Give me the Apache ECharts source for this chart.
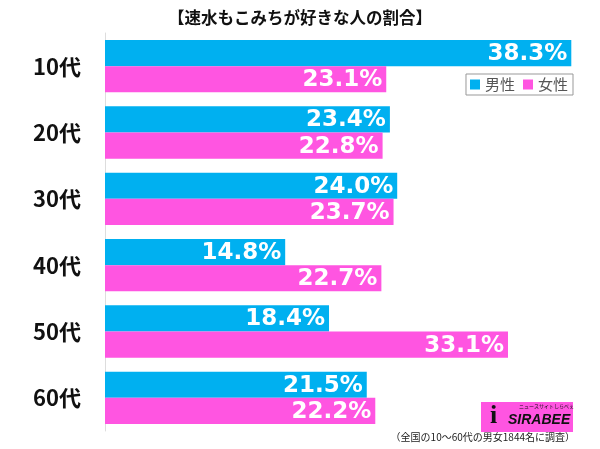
<!DOCTYPE html>
<html><head><meta charset="utf-8">
<script src="https://cdn.jsdelivr.net/npm/echarts@6/dist/echarts.min.js"></script>
<style>html,body{margin:0;padding:0;background:#fff}#c{width:600px;height:449px}</style>
</head><body><div id="c"></div>
<script>
const categories = ['10代','20代','30代','40代','50代','60代'];
const male = [38.3, 23.4, 24.0, 14.8, 18.4, 21.5];
const female = [23.1, 22.8, 23.7, 22.7, 33.1, 22.2];
const seriesNames = ['男性','女性'];
const titleText = '【速水もこみちが好きな人の割合】';
const noteText = '（全国の10～60代の男女1844名に調査）';

const chart = echarts.init(document.getElementById('c'));
const font = '"Noto Sans CJK JP", sans-serif';
const lbl = {show:true, position:'insideRight', color:'#fff', fontWeight:'bold', fontSize:23, fontFamily:'"DejaVu Sans", sans-serif', offset:[1,1], formatter: p => p.value.toFixed(1) + '%'};
chart.setOption({
  animation:false,
  title:{text:titleText, left:'center', top:4, textStyle:{fontFamily:font, fontSize:16.5, fontWeight:'bold', color:'#111'}},
  legend:{data:seriesNames, right:27, top:74, itemWidth:10, itemHeight:10, itemGap:8, borderColor:'#999', borderWidth:1, padding:[3,5,3,4], textStyle:{fontFamily:font, fontSize:15, color:'#555'}, icon:'rect'},
  grid:{left:105, right:8, top:33, bottom:18, containLabel:false},
  xAxis:{type:'value', min:0, max:40, show:false},
  yAxis:{type:'category', data:categories, inverse:true, axisTick:{show:false}, axisLine:{lineStyle:{color:'#ddd'}}, axisLabel:{fontFamily:font, fontSize:22, fontWeight:'bold', color:'#111', margin:24}},
  series:[
    {name:seriesNames[0], type:'bar', data:male, barGap:'0%', barCategoryGap:'21%', itemStyle:{color:'#00B0F0'}, label:lbl},
    {name:seriesNames[1], type:'bar', data:female, itemStyle:{color:'#FF55E1'}, label:lbl}
  ],
  graphic:[
    {type:'text', right:25, top:432, style:{text:noteText, font:'10px "Noto Sans CJK JP"', fill:'#222'}},
    {type:'rect', left:481, top:402, shape:{width:92, height:30}, style:{fill:'#FF55E1'}},
    {type:'text', left:508, top:413, style:{text:'SIRABEE', font:'italic bold 14px "Liberation Sans"', fill:'#111'}},
    {type:'text', left:519, top:404, style:{text:'ニュースサイトしらべぇ', font:'5px "Noto Sans CJK JP"', fill:'#111'}},
    {type:'text', left:490, top:403, style:{text:'i', font:'bold 26px "Liberation Serif"', fill:'#111'}}
  ]
});
</script></body></html>
